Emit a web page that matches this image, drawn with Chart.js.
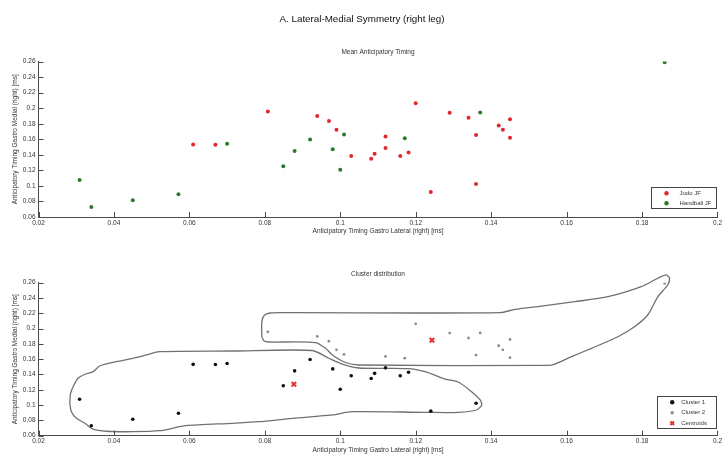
<!DOCTYPE html>
<html>
<head>
<meta charset="utf-8">
<script src="https://cdn.jsdelivr.net/npm/chart.js@4.4.1/dist/chart.umd.min.js"></script>
<style>
  body { margin: 0; background: #fff; }
  .panel { position: absolute; left: 0; width: 724px; }
  canvas { display: block; }
</style>
</head>
<body>
<div class="panel" style="top:0;height:240px"><canvas id="timingChart" width="724" height="240"></canvas></div>
<div class="panel" style="top:240px;height:215px"><canvas id="clusterChart" width="724" height="215"></canvas></div>
<script>
// axis ticks
const xTicks = [0.02, 0.04, 0.06, 0.08, 0.1, 0.12, 0.14, 0.16, 0.18, 0.2];
const xTickLabels = ['0.02', '0.04', '0.06', '0.08', '0.1', '0.12', '0.14', '0.16', '0.18', '0.2'];
const yTicks = [0.06, 0.08, 0.1, 0.12, 0.14, 0.16, 0.18, 0.2, 0.22, 0.24, 0.26];
const yTickLabels = ['0.06', '0.08', '0.1', '0.12', '0.14', '0.16', '0.18', '0.2', '0.22', '0.24', '0.26'];

// mean anticipatory timing, lateral (x) vs medial (y), seconds
const judoX = [0.061, 0.0669, 0.0808, 0.0939, 0.097, 0.099, 0.1029, 0.1082, 0.1091, 0.112, 0.112, 0.1159,
  0.1181, 0.120, 0.124, 0.129, 0.134, 0.136, 0.136, 0.142, 0.1431, 0.145, 0.145];
const judoY = [0.1533, 0.1531, 0.1958, 0.1898, 0.1836, 0.1723, 0.1384, 0.1348, 0.1415, 0.1636, 0.1487, 0.1384,
  0.143, 0.2063, 0.0921, 0.1941, 0.1877, 0.1654, 0.1024, 0.1776, 0.1723, 0.1859, 0.162];
const handballX = [0.0309, 0.034, 0.045, 0.0571, 0.07, 0.0849, 0.0879, 0.092, 0.098, 0.100, 0.101, 0.1171, 0.1371, 0.186];
const handballY = [0.1076, 0.073, 0.0816, 0.0893, 0.1544, 0.1252, 0.1448, 0.1596, 0.1473, 0.1207, 0.1663, 0.1614, 0.1943, 0.259];

// k-means result (k = 2)
const cluster1X = [0.0309, 0.034, 0.045, 0.0571, 0.061, 0.0669, 0.07, 0.0849, 0.0879, 0.092, 0.098, 0.100,
  0.1029, 0.1082, 0.1091, 0.112, 0.1159, 0.1181, 0.124, 0.136];
const cluster1Y = [0.1076, 0.073, 0.0816, 0.0893, 0.1533, 0.1531, 0.1544, 0.1252, 0.1448, 0.1596, 0.1473, 0.1207,
  0.1384, 0.1348, 0.1415, 0.1487, 0.1384, 0.143, 0.0921, 0.1024];
const cluster2X = [0.0808, 0.0939, 0.097, 0.099, 0.101, 0.112, 0.1171, 0.120, 0.129, 0.134, 0.1371, 0.136,
  0.142, 0.1431, 0.145, 0.145, 0.186];
const cluster2Y = [0.1958, 0.1898, 0.1836, 0.1723, 0.1663, 0.1636, 0.1614, 0.2063, 0.1941, 0.1877, 0.1943, 0.1654,
  0.1776, 0.1723, 0.1859, 0.162, 0.259];
const centroidX = [0.0877, 0.1243];
const centroidY = [0.1272, 0.1847];

// cluster boundary contours
const outline1X = [0.0283, 0.0285, 0.0294, 0.0305, 0.0323, 0.0345, 0.0362, 0.0406, 0.045, 0.0486, 0.0521, 0.0714,
  0.0926, 0.097, 0.1005, 0.1049, 0.1181, 0.1225, 0.1278, 0.1313, 0.1348, 0.1371, 0.1375, 0.1361, 0.1313, 0.1225,
  0.1031, 0.0979, 0.0873, 0.0785, 0.0714, 0.0591, 0.0521, 0.045, 0.038, 0.0345, 0.0323, 0.0301, 0.0287, 0.0283];
const outline1Y = [0.1024, 0.1154, 0.1263, 0.135, 0.1403, 0.1437, 0.1511, 0.1567, 0.1612, 0.1655, 0.1698, 0.1707,
  0.1714, 0.1612, 0.1537, 0.1485, 0.1478, 0.1437, 0.1341, 0.1302, 0.1175, 0.1067, 0.1001, 0.0936, 0.0905, 0.0905,
  0.0914, 0.0871, 0.0827, 0.0783, 0.0762, 0.0731, 0.0665, 0.0652, 0.0658, 0.0685, 0.0762, 0.0827, 0.0914, 0.1024];
const outline2X = [0.0792, 0.0792, 0.0798, 0.0814, 0.0869, 0.1424, 0.1463, 0.1533, 0.1622, 0.171, 0.1798, 0.1842,
  0.1864, 0.1873, 0.1868, 0.1842, 0.1815, 0.178, 0.1736, 0.1666, 0.1613, 0.1569, 0.1551, 0.1049, 0.1014, 0.0979,
  0.0961, 0.0935, 0.0811, 0.0798, 0.0792];
const outline2Y = [0.1894, 0.2086, 0.2171, 0.2204, 0.2208, 0.2208, 0.2252, 0.2295, 0.2352, 0.2417, 0.2548, 0.2658,
  0.2701, 0.2658, 0.257, 0.2417, 0.2178, 0.2025, 0.1894, 0.1742, 0.1633, 0.1537, 0.1518, 0.1524, 0.1557, 0.1655,
  0.1742, 0.1818, 0.1825, 0.1838, 0.1894];

const FONT = '"Liberation Sans", Arial, sans-serif';
const AXIS = '#4a4a4a';
const TEXT = '#333';

const toPoints = (xs, ys) => xs.map((x, i) => ({ x: x, y: ys[i] }));

function axes(canvasHeight, plotBottom, xTitlePad) {
  return {
    x: {
      type: 'linear',
      min: 0.02,
      max: 0.2,
      afterBuildTicks: function (s) { s.ticks = xTicks.map(v => ({ value: v })); },
      afterFit: function (s) { s.height = canvasHeight - plotBottom; },
      grid: { display: false, drawTicks: false },
      border: { display: true, color: AXIS, width: 1 },
      ticks: {
        padding: 2, color: TEXT, maxRotation: 0, autoSkip: false,
        font: { family: FONT, size: 6.5 },
        callback: (v, i) => xTickLabels[i]
      },
      title: {
        display: true, text: 'Anticipatory Timing Gastro Lateral (right) [ms]', color: TEXT,
        font: { family: FONT, size: 6.5 }, padding: { top: 0, bottom: xTitlePad }
      }
    },
    y: {
      type: 'linear',
      min: 0.06,
      max: 0.26,
      afterBuildTicks: function (s) { s.ticks = yTicks.map(v => ({ value: v })); },
      afterFit: function (s) { s.width = 32.5; },
      grid: { display: false, drawTicks: false },
      border: { display: true, color: AXIS, width: 1 },
      ticks: {
        padding: 3, color: TEXT, autoSkip: false,
        font: { family: FONT, size: 6.5 },
        callback: (v, i) => yTickLabels[i]
      },
      title: {
        display: true, text: 'Anticipatory Timing Gastro Medial (right) [ms]', color: TEXT,
        font: { family: FONT, size: 6.5 }, padding: { top: 5, bottom: 0 }
      }
    }
  };
}

// tick marks pointing into the plot, axes drawn on the left and bottom only
const innerTicks = {
  id: 'innerTicks',
  afterDraw(chart) {
    const { ctx, chartArea: a, scales } = chart;
    ctx.save();
    ctx.strokeStyle = AXIS;
    ctx.lineWidth = 1;
    ctx.beginPath();
    xTicks.forEach(v => {
      const px = Math.round(scales.x.getPixelForValue(v)) + 0.5;
      ctx.moveTo(px, a.bottom);
      ctx.lineTo(px, a.bottom - 5);
    });
    yTicks.forEach(v => {
      const py = Math.round(scales.y.getPixelForValue(v)) + 0.5;
      ctx.moveTo(a.left, py);
      ctx.lineTo(a.left + 5, py);
    });
    ctx.stroke();
    ctx.restore();
  }
};

// boxed legend in the lower right corner of the plot
const boxLegend = {
  id: 'boxLegend',
  afterDraw(chart, args, opts) {
    const { ctx, chartArea: a } = chart;
    const left = Math.round(a.right - opts.right - opts.width) + 0.5;
    const top = Math.round(a.bottom - opts.bottom - opts.height) + 0.5;
    ctx.save();
    ctx.fillStyle = '#fff';
    ctx.fillRect(left, top, opts.width, opts.height);
    ctx.strokeStyle = '#444';
    ctx.lineWidth = 1;
    ctx.strokeRect(left, top, opts.width, opts.height);
    ctx.font = '6px ' + FONT;
    ctx.textBaseline = 'middle';
    ctx.textAlign = 'left';
    opts.items.forEach((di, row) => {
      const ds = chart.data.datasets[di];
      const cy = top + opts.firstRow + row * opts.rowGap;
      ctx.fillStyle = ds.backgroundColor;
      ctx.strokeStyle = ds.borderColor;
      ctx.lineWidth = ds.borderWidth;
      Chart.helpers.drawPoint(ctx, {
        pointStyle: ds.pointStyle, radius: ds.legendRadius, rotation: 0, borderWidth: ds.borderWidth
      }, left + opts.markerX, cy);
      ctx.fillStyle = TEXT;
      ctx.fillText(ds.label, left + opts.textX, cy);
    });
    ctx.restore();
  }
};

new Chart(document.getElementById('timingChart'), {
  type: 'scatter',
  data: {
    datasets: [
      {
        label: 'Judo JF', data: toPoints(judoX, judoY), pointStyle: 'circle',
        backgroundColor: '#e0282c', borderColor: '#e0282c', borderWidth: 0, pointRadius: 2, legendRadius: 2.2
      },
      {
        label: 'Handball JF', data: toPoints(handballX, handballY), pointStyle: 'circle',
        backgroundColor: '#2c7a2c', borderColor: '#2c7a2c', borderWidth: 0, pointRadius: 2, legendRadius: 2.2
      }
    ]
  },
  options: {
    responsive: false,
    animation: false,
    devicePixelRatio: 1,
    layout: { padding: { left: 6, right: 6, top: 0, bottom: 0 } },
    scales: axes(240, 217, 5),
    plugins: {
      legend: { display: false },
      tooltip: { enabled: false },
      title: {
        display: true, text: 'A. Lateral-Medial Symmetry (right leg)', color: '#111',
        font: { family: FONT, size: 9.8, weight: 'normal' }, padding: { top: 13, bottom: 0 }
      },
      subtitle: {
        display: true, text: 'Mean Anticipatory Timing', color: TEXT, fullSize: false,
        font: { family: FONT, size: 6.5 }, padding: { top: 24, bottom: 5 }
      },
      boxLegend: { items: [0, 1], width: 65, height: 21, right: 1, bottom: 9, firstRow: 5.7, rowGap: 10, markerX: 15, textX: 28 }
    }
  },
  plugins: [innerTicks, boxLegend]
});

new Chart(document.getElementById('clusterChart'), {
  type: 'scatter',
  data: {
    datasets: [
      {
        label: 'Cluster 1', data: toPoints(cluster1X, cluster1Y), pointStyle: 'circle',
        backgroundColor: '#111', borderColor: '#111', borderWidth: 0, pointRadius: 1.8, legendRadius: 2.2
      },
      {
        label: 'Cluster 2', data: toPoints(cluster2X, cluster2Y), pointStyle: 'circle',
        backgroundColor: '#8c8c8c', borderColor: '#8c8c8c', borderWidth: 0, pointRadius: 1.4, legendRadius: 1.7
      },
      {
        label: 'Centroids', data: toPoints(centroidX, centroidY), pointStyle: 'crossRot',
        backgroundColor: '#e5332f', borderColor: '#e5332f', borderWidth: 2, pointRadius: 3.2, legendRadius: 2.6
      },
      {
        label: 'Boundary 1', data: toPoints(outline1X, outline1Y), showLine: true, pointRadius: 0,
        borderColor: '#707070', borderWidth: 1.3, tension: 0.25, clip: false
      },
      {
        label: 'Boundary 2', data: toPoints(outline2X, outline2Y), showLine: true, pointRadius: 0,
        borderColor: '#707070', borderWidth: 1.3, tension: 0.25, clip: false
      }
    ]
  },
  options: {
    responsive: false,
    animation: false,
    devicePixelRatio: 1,
    layout: { padding: { left: 6, right: 6, top: 0, bottom: 0 } },
    scales: axes(215, 195.7, 1),
    plugins: {
      legend: { display: false },
      tooltip: { enabled: false },
      title: {
        display: true, text: 'Cluster distribution', color: TEXT, fullSize: false,
        font: { family: FONT, size: 6.5, weight: 'normal' }, padding: { top: 30, bottom: 4.9 }
      },
      boxLegend: { items: [0, 1, 2], width: 59, height: 32, right: 1, bottom: 7.7, firstRow: 5.7, rowGap: 10.5, markerX: 14.7, textX: 23.7 }
    }
  },
  plugins: [innerTicks, boxLegend]
});
</script>
</body>
</html>
